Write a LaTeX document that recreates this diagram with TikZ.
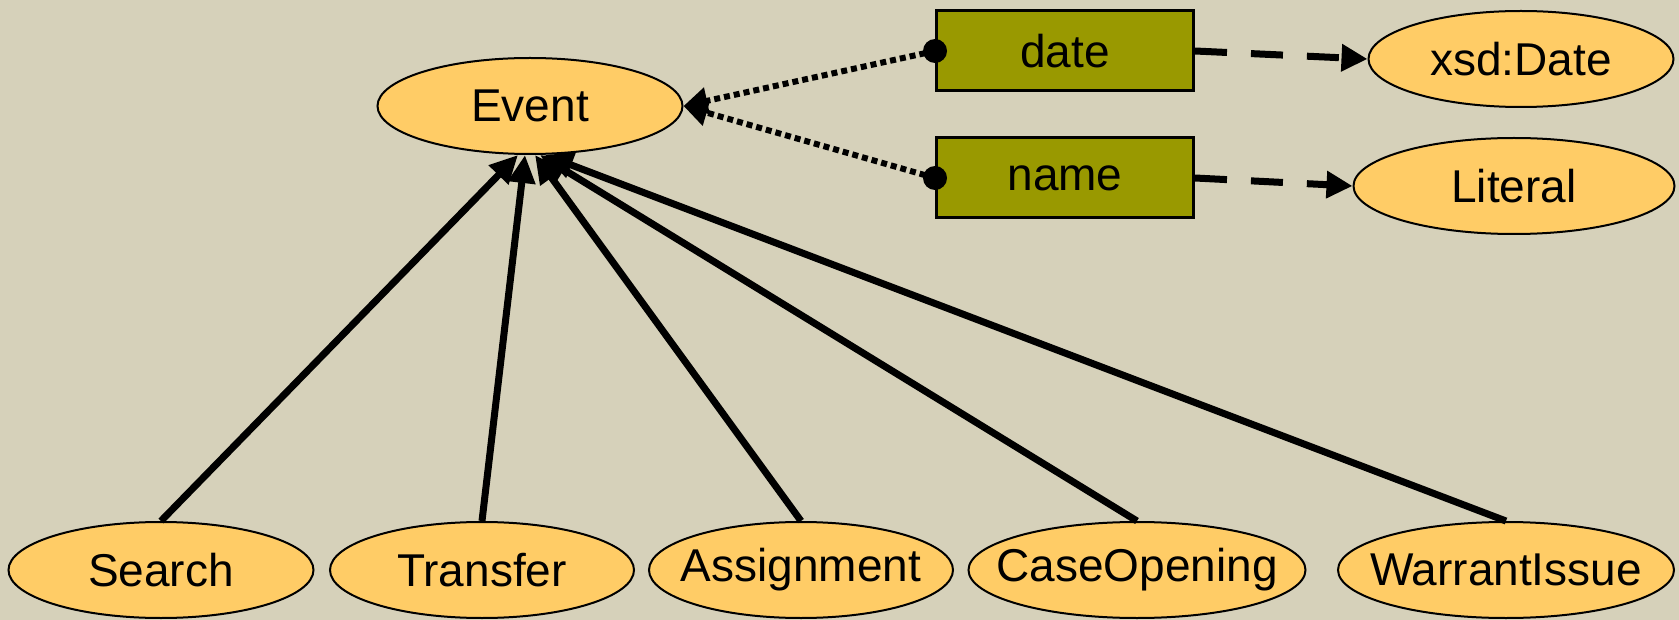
\documentclass[tikz,border=0pt]{standalone}
\usepackage{fontspec}
\setmainfont{Liberation Sans}
\usetikzlibrary{shapes.geometric,arrows.meta,calc}
\definecolor{bg}{RGB}{214,209,186}
\definecolor{ellfill}{RGB}{255,204,102}
\definecolor{propfill}{RGB}{153,153,0}
\newcommand{\zw}[1]{\makebox[0pt]{#1}}
\begin{document}
\begin{tikzpicture}[x=1pt,y=-1pt,
  cls/.style={ellipse,draw=black,line width=2pt,fill=ellfill,inner sep=0pt,
    minimum height=96pt,font=\fontsize{46}{55}\selectfont},
  prop/.style={rectangle,draw=black,line width=3pt,fill=propfill,inner sep=0pt,
    minimum width=257pt,minimum height=80pt,font=\fontsize{46}{55}\selectfont},
  isa/.style={line width=7pt,-{Triangle[length=28pt,width=26pt]}},
  dom/.style={line width=6pt,dash pattern=on 6pt off 4pt,-{Triangle[length=24pt,width=26pt]}},
  rng/.style={line width=7pt,dash pattern=on 32pt off 24pt,-{Triangle[length=26pt,width=26pt]}}]
\useasboundingbox (0,0) rectangle (1679,620);
\fill[bg] (0,0) rectangle (1679,620);
\node[cls,minimum width=305pt] (event) at (530,106) {\zw{Event}};
\node[prop] (date) at (1065,51) {date};
\node[prop] (name) at (1065,178) {name};
\node[cls,minimum width=305pt] (xsd) at (1521,59) {\zw{xsd:Date}};
\node[cls,minimum width=321pt] (literal) at (1514,186) {\zw{Literal}};
\node[cls,minimum width=305pt] (search) at (161,570) {\zw{Search}};
\node[cls,minimum width=304pt] (transfer) at (482,570) {\zw{Transfer}};
\node[cls,minimum width=304pt] (assign) at (801,570) {\zw{Assignment}};
\node[cls,minimum width=337pt] (caseop) at (1137,570) {\zw{CaseOpening}};
\node[cls,minimum width=336pt] (warrant) at (1506,570) {\zw{WarrantIssue}};
\draw[isa] (search.north) -- ($(event.south)+(-12,0)$);
\draw[isa] (transfer.north) -- ($(event.south)+(-5,0)$);
\draw[isa] (assign.north) -- ($(event.south)+(5,0)$);
\draw[isa] (caseop.north) -- ($(event.south)+(10,0)$);
\draw[isa] (warrant.north) -- ($(event.south)+(15,0)$);
\draw[dom] (date.west) -- (event.east);
\draw[dom] (name.west) -- (event.east);
\fill (date.west) circle (12);
\fill (name.west) circle (12);
\draw[rng] (date.east) -- (xsd.west);
\draw[rng] (name.east) -- (literal.west);
\end{tikzpicture}
\end{document}
